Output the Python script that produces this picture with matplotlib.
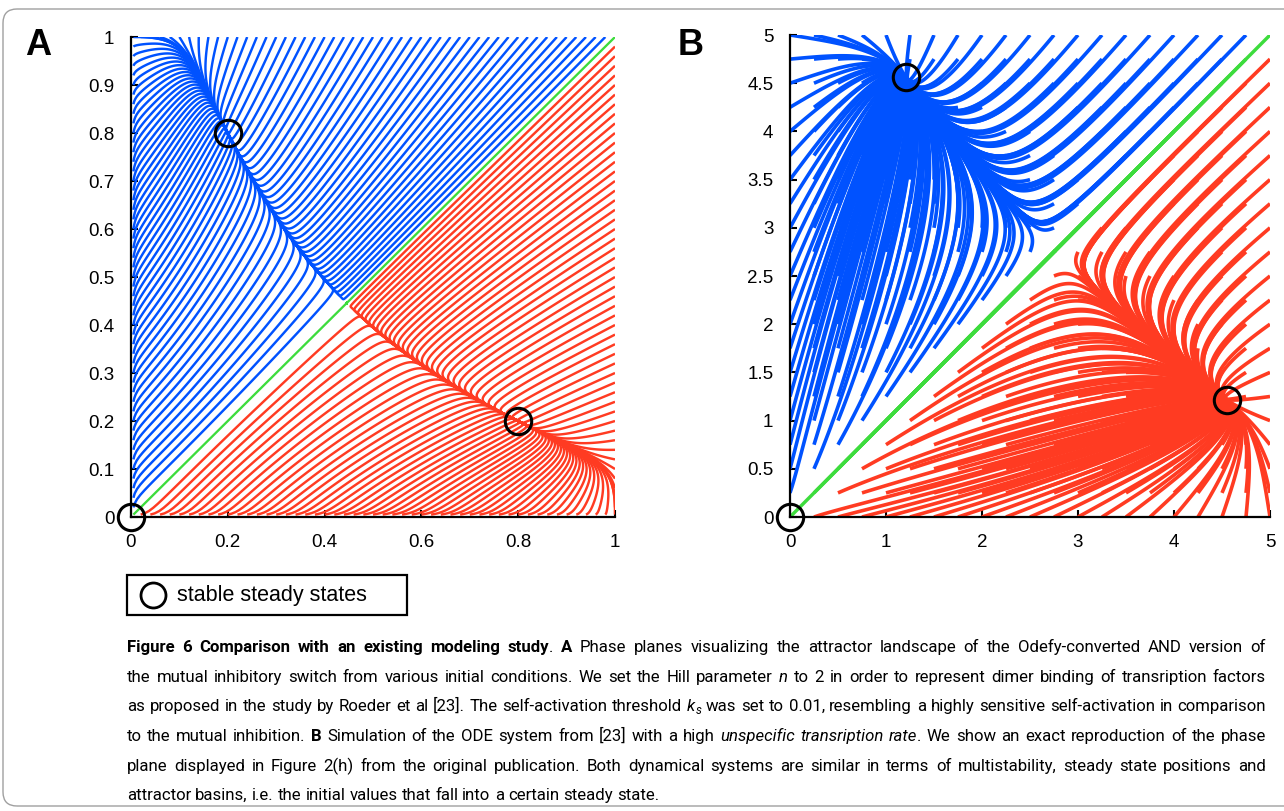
#!/usr/bin/env python3
import re
import numpy as np
import matplotlib
matplotlib.use("Agg")
import matplotlib.pyplot as plt
from matplotlib.collections import LineCollection
from matplotlib.lines import Line2D
from matplotlib.patches import FancyBboxPatch, Rectangle

plt.rcParams["font.family"] = ["Liberation Sans", "DejaVu Sans"]

# ---- panel A: Odefy (HillCube) AND version of the mutual inhibitory switch ----
# initial values along the four edges of the unit square
a_edge = [0.02, 0.04, 0.06, 0.08, 0.10, 0.12, 0.14, 0.16, 0.18, 0.20,
          0.22, 0.24, 0.26, 0.28, 0.30, 0.32, 0.34, 0.36, 0.38, 0.40,
          0.42, 0.44, 0.46, 0.48, 0.50, 0.52, 0.54, 0.56, 0.58, 0.60,
          0.62, 0.64, 0.66, 0.68, 0.70, 0.72, 0.74, 0.76, 0.78, 0.80,
          0.82, 0.84, 0.86, 0.88, 0.90, 0.92, 0.94, 0.96, 0.98]
a_low = 0.005       # start just off the axes, the AND gate keeps an exact zero
a_hill_n = 2
a_k_self = 0.01
a_k_inh = 0.4
a_steady_x = [0, 0.2, 0.8]
a_steady_y = [0, 0.8, 0.2]
a_xticks = [0, 0.2, 0.4, 0.6, 0.8, 1]
a_xlabels = ["0", "0.2", "0.4", "0.6", "0.8", "1"]
a_yticks = [0, 0.1, 0.2, 0.3, 0.4, 0.5, 0.6, 0.7, 0.8, 0.9, 1]
a_ylabels = ["0", "0.1", "0.2", "0.3", "0.4", "0.5", "0.6", "0.7", "0.8", "0.9", "1"]

# ---- panel B: ODE system of Roeder et al, high unspecific transcription ----
b_grid = [0, 0.25, 0.5, 0.75, 1, 1.25, 1.5, 1.75, 2, 2.25, 2.5,
          2.75, 3, 3.25, 3.5, 3.75, 4, 4.25, 4.5, 4.75, 5]
b_unspec = 1.0
b_act = 3.85
b_theta2 = 0.05
b_inh = 1.18
b_steady_x = [0, 1.21, 4.55]
b_steady_y = [0, 4.56, 1.21]
b_xticks = [0, 1, 2, 3, 4, 5]
b_yticks = [0, 0.5, 1, 1.5, 2, 2.5, 3, 3.5, 4, 4.5, 5]
b_ylabels = ["0", "0.5", "1", "1.5", "2", "2.5", "3", "3.5", "4", "4.5", "5"]

BLUE, RED, GREEN = "#0052ff", "#ff3b22", "#3ddc3d"

caption = [
    "{b|Figure 6 Comparison with an existing modeling study}. {b|A} Phase planes visualizing the attractor landscape of the Odefy-converted AND version of",
    "the mutual inhibitory switch from various initial conditions. We set the Hill parameter {i|n} to 2 in order to represent dimer binding of transription factors",
    "as proposed in the study by Roeder et al [23]. The self-activation threshold {i|k}{s|s} was set to 0.01, resembling a highly sensitive self-activation in comparison",
    "to the mutual inhibition. {b|B} Simulation of the ODE system from [23] with a high {i|unspecific transription rate}. We show an exact reproduction of the phase",
    "plane displayed in Figure 2(h) from the original publication. Both dynamical systems are similar in terms of multistability, steady state positions and",
    "attractor basins, i.e. the initial values that fall into a certain steady state.",
]


def rhs_a(x, y):
    n, ks, ki = a_hill_n, a_k_self, a_k_inh
    act_x = x**n * (1 + ks**n) / (x**n + ks**n)
    act_y = y**n * (1 + ks**n) / (y**n + ks**n)
    return (act_x * ki**n / (ki**n + y**n) - x,
            act_y * ki**n / (ki**n + x**n) - y)


def rhs_b(x, y):
    px = b_unspec + b_act * x**2 / (x**2 + b_theta2 + b_inh * y**2)
    py = b_unspec + b_act * y**2 / (y**2 + b_theta2 + b_inh * x**2)
    return px - x, py - y


def integrate(rhs, x0, y0, dt, steps):
    x = np.asarray(x0, float)
    y = np.asarray(y0, float)
    path = [np.column_stack([x, y])]
    for _ in range(steps):
        k1 = rhs(x, y)
        k2 = rhs(x + dt / 2 * k1[0], y + dt / 2 * k1[1])
        k3 = rhs(x + dt / 2 * k2[0], y + dt / 2 * k2[1])
        k4 = rhs(x + dt * k3[0], y + dt * k3[1])
        x = x + dt / 6 * (k1[0] + 2 * k2[0] + 2 * k3[0] + k4[0])
        y = y + dt / 6 * (k1[1] + 2 * k2[1] + 2 * k3[1] + k4[1])
        path.append(np.column_stack([x, y]))
    return np.stack(path, axis=1)


def phase_plane(ax, paths, x0, y0, lw):
    x0, y0 = np.asarray(x0), np.asarray(y0)
    ax.add_collection(LineCollection(paths[y0 > x0], colors=BLUE, lw=lw, capstyle="butt"))
    ax.add_collection(LineCollection(paths[y0 < x0], colors=RED, lw=lw, capstyle="butt"))
    ax.add_collection(LineCollection(paths[y0 == x0], colors=GREEN, lw=lw * 0.95))


def style_axes(ax, lim, xticks, xlabels, yticks, ylabels):
    ax.set_xlim(0, lim)
    ax.set_ylim(0, lim)
    for s in ("top", "right"):
        ax.spines[s].set_visible(False)
    for s in ("left", "bottom"):
        ax.spines[s].set_linewidth(1.6)
    ax.set_xticks(xticks, xlabels)
    ax.set_yticks(yticks, ylabels)
    ax.tick_params(direction="in", length=5, width=1.5, labelsize=13.5)
    ax.tick_params(axis="x", pad=12)
    ax.tick_params(axis="y", pad=12)


W, H = 1284, 811
fig = plt.figure(figsize=(W / 100, H / 100), dpi=100)

# panel A
ax_a = fig.add_axes([131 / W, 1 - 517 / H, 484 / W, 480 / H])
n_e = len(a_edge)
ax0 = [a_low] * n_e + a_edge + [1.0] * n_e + a_edge + [a_low, 1.0, a_low, 1.0]
ay0 = a_edge + [1.0] * n_e + a_edge + [a_low] * n_e + [a_low, 1.0, 1.0, a_low]
paths_a = integrate(rhs_a, ax0, ay0, 0.01, 4000)
phase_plane(ax_a, paths_a, ax0, ay0, 1.75)
ax_a.plot(a_steady_x, a_steady_y, "o", ms=19, mfc="none", mec="k", mew=2.2, clip_on=False, zorder=5)
style_axes(ax_a, 1, a_xticks, a_xlabels, a_yticks, a_ylabels)

# panel B
ax_b = fig.add_axes([790 / W, 1 - 517 / H, 480 / W, 482 / H])
gx, gy = np.meshgrid(b_grid, b_grid)
bx0, by0 = gx.ravel(), gy.ravel()
paths_b = integrate(rhs_b, bx0, by0, 0.02, 1200)
phase_plane(ax_b, paths_b, bx0, by0, 2.6)
ax_b.plot(b_steady_x, b_steady_y, "o", ms=19, mfc="none", mec="k", mew=2.2, clip_on=False, zorder=5)
style_axes(ax_b, 5, b_xticks, [str(t) for t in b_xticks], b_yticks, b_ylabels)

fig.text(25 / W, 1 - 55 / H, "A", fontsize=26, fontweight="bold", va="baseline")
fig.text(678 / W, 1 - 55 / H, "B", fontsize=26, fontweight="bold", va="baseline")

# legend box
fig.add_artist(Rectangle((127 / W, 1 - 615 / H), 280 / W, 40 / H, transform=fig.transFigure,
                         fill=False, ec="k", lw=1.6))
fig.add_artist(Line2D([153 / W], [1 - 595 / H], transform=fig.transFigure, marker="o", ms=18,
                      mfc="none", mec="k", mew=2.0))
fig.text(177 / W, 1 - 595 / H, "stable steady states", fontsize=15.5, va="center")

# rounded frame round the figure
fig.add_artist(FancyBboxPatch((3, 5), 1320, 797, boxstyle="round,pad=0,rounding_size=14",
                              transform=None, fc="none", ec="#a0a0a0", lw=1.0))

# caption, justified word by word
renderer = fig.canvas.get_renderer()
cap_left, cap_right = 127, 1266
cap_base = [652, 682, 711, 741, 771, 800]


def words_of(line):
    chars = []
    for m in re.finditer(r"\{(\w)\|([^}]*)\}|([^{]+)", line):
        style, text = ("n", m.group(3)) if m.group(3) is not None else (m.group(1), m.group(2))
        chars += [(style, c) for c in text]
    words, cur = [], []
    for style, c in chars:
        if c == " ":
            if cur:
                words.append(cur)
            cur = []
        elif cur and cur[-1][0] == style:
            cur[-1] = (style, cur[-1][1] + c)
        else:
            cur.append((style, c))
    if cur:
        words.append(cur)
    return words


def make_run(style, text, size):
    kw = dict(family=["Roboto", "DejaVu Sans"], fontsize=size, va="baseline", ha="left")
    if style == "b":
        kw["fontweight"] = "bold"
    if style in ("i", "s"):
        kw["fontstyle"] = "italic"
    if style == "s":
        kw["fontsize"] = size * 0.7
    t = fig.text(0, 0, text, **kw)
    return t, t.get_window_extent(renderer).width


def build_caption(size):
    lines = []
    for line in caption:
        words = []
        for w in words_of(line):
            runs = [(style,) + make_run(style, text, size) for style, text in w]
            words.append(runs)
        lines.append(words)
    sp_a = make_run("n", "n n", size)
    sp_b = make_run("n", "nn", size)
    space = sp_a[1] - sp_b[1]
    sp_a[0].remove()
    sp_b[0].remove()
    return lines, space


size = 13.5
lines, space = build_caption(size)
widest = max(sum(r[2] for w in ws for r in w) + space * (len(ws) - 1) for ws in lines[:-1])
if widest > (cap_right - cap_left) * 0.995:
    for ws in lines:
        for w in ws:
            for r in w:
                r[1].remove()
    size *= (cap_right - cap_left) * 0.99 / widest
    lines, space = build_caption(size)

for k, ws in enumerate(lines):
    wwidth = [sum(r[2] for r in w) for w in ws]
    gap = space if k == len(lines) - 1 else (cap_right - cap_left - sum(wwidth)) / (len(ws) - 1)
    x = cap_left
    for w, ww in zip(ws, wwidth):
        xr = x
        for style, t, rw in w:
            yb = cap_base[k] + (3 if style == "s" else 0)
            t.set_position((xr / W, 1 - yb / H))
            xr += rw
        x += ww + gap

fig.savefig("out.png", dpi=100)
